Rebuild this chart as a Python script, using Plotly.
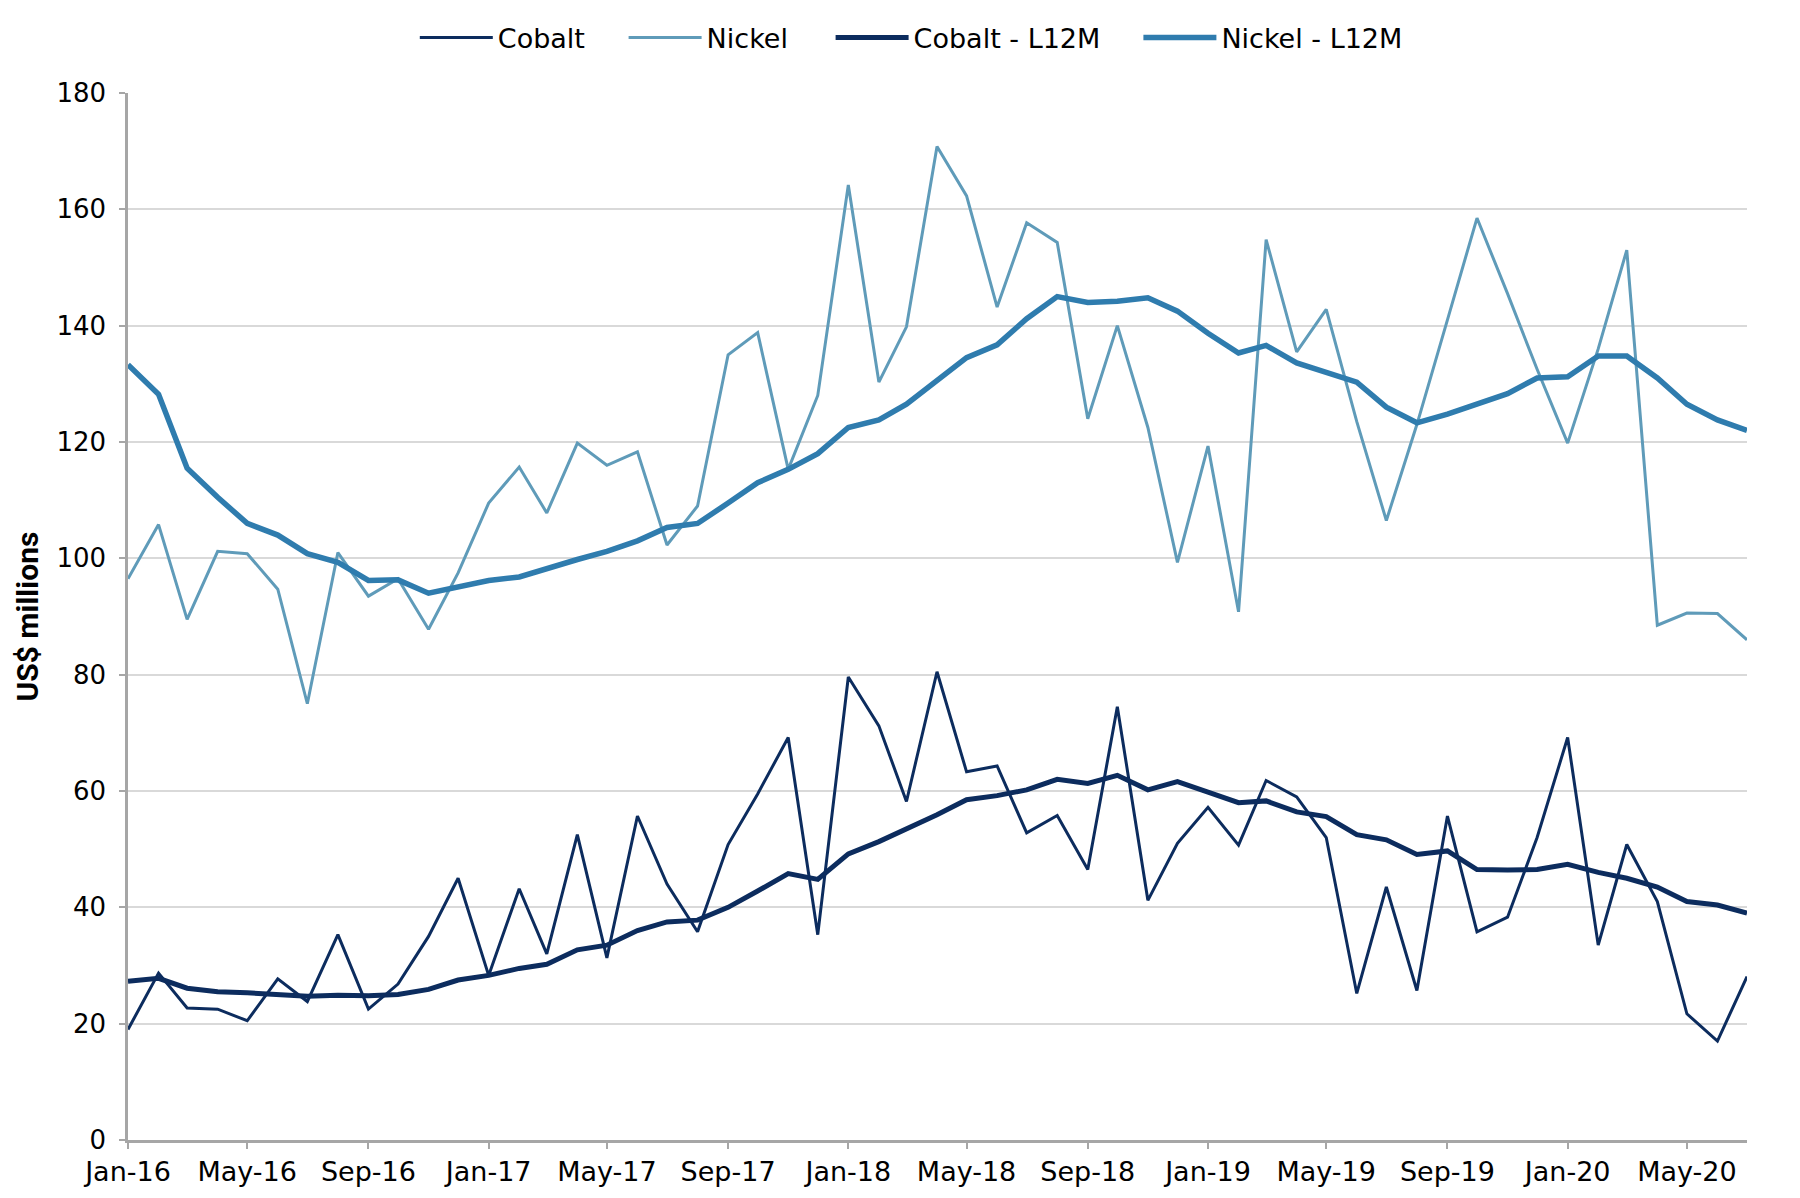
import plotly.graph_objects as go
import pandas as pd

months = pd.date_range("2016-01-01", "2020-07-01", freq="MS")

cobalt = [19, 28.7, 22.7, 22.5, 20.5, 27.7, 23.8, 35.3, 22.5, 26.8, 35, 45,
          28.3, 43.2, 32, 52.5, 31.3, 55.7, 44, 35.8, 50.8, 59.5, 69.2, 35.3,
          79.6, 71.2, 58.2, 80.5, 63.3, 64.3, 52.8, 55.8, 46.5, 74.5, 41.2, 51,
          57.2, 50.7, 61.8, 59, 52, 25.2, 43.5, 25.7, 55.7, 35.8, 38.3, 52,
          69.2, 33.5, 50.8, 41, 21.7, 17, 28.1]

nickel = [96.5, 105.8, 89.5, 101.2, 100.8, 94.7, 75, 101, 93.5, 96.5, 87.8, 97.5,
          109.5, 115.7, 107.8, 119.8, 116, 118.3, 102.3, 109, 135, 138.8, 115.3, 128,
          164.2, 130.3, 139.8, 170.8, 162.3, 143.2, 157.7, 154.3, 124, 140, 122.5, 99.3,
          119.3, 90.8, 154.8, 135.5, 142.8, 123.5, 106.5, 123, 141, 158.5, 145.5, 132.5,
          119.8, 136, 153, 88.5, 90.6, 90.5, 86]

cobalt_l12m = [27.3, 27.8, 26.1, 25.5, 25.3, 25.1, 24.7, 24.9, 24.8, 25, 25.9, 27.5,
               28.3, 29.5, 30.2, 32.7, 33.5, 36, 37.5, 37.8, 40, 42.8, 45.8, 44.8,
               49.2, 51.3, 53.5, 55.9, 58.5, 59.2, 60.2, 62, 61.3, 62.7, 60.2, 61.6,
               59.8, 58, 58.3, 56.4, 55.6, 52.5, 51.6, 49.1, 49.7, 46.5, 46.4, 46.5,
               47.4, 46, 45, 43.5, 41, 40.4, 39]

nickel_l12m = [133.3, 128.2, 115.5, 110.5, 106, 104, 100.8, 99.3, 96.2, 96.3, 94, 95,
               96.2, 96.8, 98.3, 99.8, 101.2, 103, 105.3, 106, 109.5, 113, 115.3, 118,
               122.5, 123.8, 126.5, 130.6, 134.5, 136.7, 141.2, 145, 144, 144.2, 144.8, 142.5,
               138.7, 135.3, 136.6, 133.6, 131.9, 130.3, 126, 123.3, 124.8, 126.4, 128.3, 131,
               131.2, 134.8, 134.8, 131, 126.5, 123.8, 122]

tick_vals = pd.date_range("2016-01-01", "2020-05-01", freq="4MS")
tick_text = [d.strftime("%b-%y") for d in tick_vals]

C_COBALT = "#0c2c5e"
C_NICKEL = "#5f9bb9"
C_NICKEL_L = "#2f7cae"
FONT = "DejaVu Sans, Arial, sans-serif"

fig = go.Figure()
fig.add_trace(go.Scatter(x=months, y=nickel, name="Nickel", mode="lines",
                         line=dict(color=C_NICKEL, width=3), legend="legend2"))
fig.add_trace(go.Scatter(x=months, y=cobalt, name="Cobalt", mode="lines",
                         line=dict(color=C_COBALT, width=3), legend="legend"))
fig.add_trace(go.Scatter(x=months, y=nickel_l12m, name="Nickel - L12M", mode="lines",
                         line=dict(color=C_NICKEL_L, width=5.5), legend="legend4"))
fig.add_trace(go.Scatter(x=months, y=cobalt_l12m, name="Cobalt - L12M", mode="lines",
                         line=dict(color=C_COBALT, width=5), legend="legend3"))

def leg(x):
    return dict(orientation="h", xref="container", yref="container",
                x=x, xanchor="left", y=0.975, yanchor="middle",
                font=dict(family=FONT, size=27), itemwidth=73,
                bgcolor="rgba(0,0,0,0)", borderwidth=0)

fig.update_layout(
    width=1800, height=1198,
    margin=dict(l=120, r=61, t=85, b=66, autoexpand=False),
    paper_bgcolor="white", plot_bgcolor="white",
    font=dict(family=FONT, size=26, color="black"),
    showlegend=True,
    legend=leg(0.226),
    legend2=leg(0.342),
    legend3=leg(0.457),
    legend4=leg(0.628),
)
fig.update_xaxes(
    type="date",
    range=[months[0], months[-1]],
    tickvals=tick_vals, ticktext=tick_text,
    showgrid=False,
    showline=True, linecolor="#a6a6a6", linewidth=2.5,
    ticks="outside", ticklen=6, tickcolor="#a6a6a6", tickwidth=2,
    tickfont=dict(family=FONT, size=27),
    automargin=False,
)
fig.update_yaxes(
    range=[0, 180], dtick=20,
    showgrid=True, gridcolor="#d9d9d9", gridwidth=1.5,
    showline=True, linecolor="#a6a6a6", linewidth=2.5,
    ticks="outside", ticklen=6, tickcolor="#a6a6a6", tickwidth=2,
    ticklabelstandoff=8,
    zeroline=False,
    tickfont=dict(family=FONT, size=26),
    automargin=False,
    title=dict(text="<b>US$ millions</b>", font=dict(family="Roboto, Arial, sans-serif", size=30), standoff=9),
)

fig.write_html("out.html")
